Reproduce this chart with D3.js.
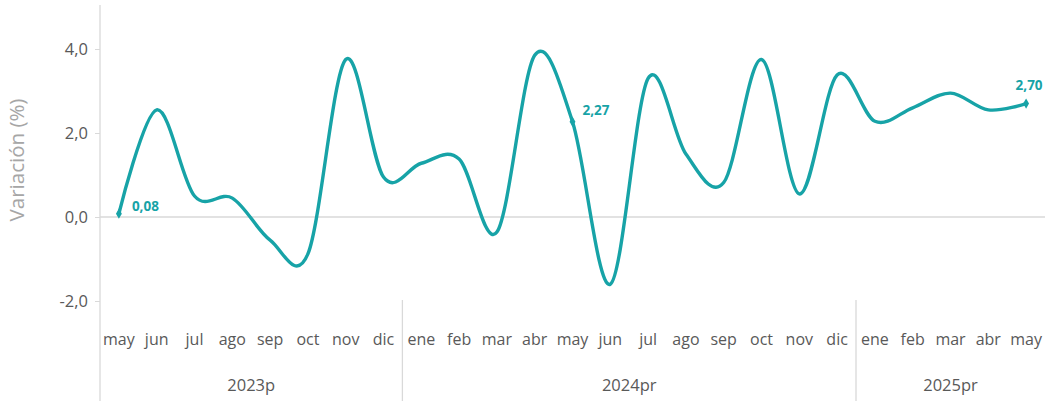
<!DOCTYPE html>
<html>
<head>
<meta charset="utf-8">
<script src="https://cdn.jsdelivr.net/npm/d3@7"></script>
<style>
	body { margin: 0; background: #fff; }
	text { font-family: 'Open Sans', 'Liberation Sans', sans-serif; }
</style>
</head>
<body>
<div class="graphic"></div>
<script>
var months = ['may','jun','jul','ago','sep','oct','nov','dic',
	'ene','feb','mar','abr','may','jun','jul','ago','sep','oct','nov','dic',
	'ene','feb','mar','abr','may'];
var years = ['2023p', '2024pr', '2025pr'];
var yearCounts = [8, 12, 5];
var values = [0.08, 2.55, 0.5, 0.45, -0.55, -0.88, 3.75, 0.95,
	1.28, 1.38, -0.36, 3.85, 2.27, -1.6, 3.3, 1.5, 0.82, 3.75, 0.55, 3.38,
	2.28, 2.6, 2.95, 2.55, 2.70];
var labelled = [0, 12, 24];
var yTicks = [-2, 0, 2, 4];

var width = 1045, height = 401;
var teal = '#17a3a7';
var fmt = function (d, p) { return d3.format(p)(d).replace('.', ',').replace('\u2212', '-'); };

var svg = d3.select('.graphic').append('svg')
	.attr('width', width).attr('height', height);

var keys = months.map(function (m, i) { return i; });
var x = d3.scaleBand().domain(keys).range([100, 1045]);
var y = d3.scaleLinear().domain([-2, 4]).range([301, 49]);

// category axis line at zero
svg.append('line')
	.attr('x1', 100).attr('x2', 1045)
	.attr('y1', y(0)).attr('y2', y(0))
	.attr('stroke', '#d9d9d9').attr('stroke-width', 1.3);

// value axis
svg.append('line')
	.attr('x1', 100).attr('x2', 100)
	.attr('y1', 5).attr('y2', height)
	.attr('stroke', '#d9d9d9').attr('stroke-width', 1.3);

var yAxis = svg.append('g').attr('transform', 'translate(100,0)')
	.call(d3.axisLeft(y).tickValues(yTicks).tickSize(5).tickPadding(7)
		.tickFormat(function (d) { return fmt(d, '.1f'); }));
yAxis.select('.domain').remove();
yAxis.selectAll('line').attr('stroke', '#d9d9d9');
yAxis.selectAll('text').attr('fill', '#595959').style('font-size', '16.5px');

svg.append('text')
	.attr('transform', 'translate(24,' + 160 + ') rotate(-90)')
	.attr('text-anchor', 'middle')
	.attr('fill', '#a6a6a6')
	.style('font-size', '20.5px')
	.text('Variación (%)');

// month labels
svg.selectAll('.month')
	.data(months)
	.enter().append('text')
	.attr('class', 'month')
	.attr('x', function (d, i) { return x(i) + x.bandwidth() / 2; })
	.attr('y', 345)
	.attr('text-anchor', 'middle')
	.attr('fill', '#595959')
	.style('font-size', '16px')
	.text(function (d) { return d; });

// year groups
var start = 0;
years.forEach(function (yr, j) {
	var x0 = x(start);
	var x1 = x(start + yearCounts[j] - 1) + x.bandwidth();
	if (j > 0) {
		svg.append('line')
			.attr('x1', x0).attr('x2', x0)
			.attr('y1', 300).attr('y2', height)
			.attr('stroke', '#d9d9d9').attr('stroke-width', 1.3);
	}
	svg.append('text')
		.attr('x', (x0 + x1) / 2)
		.attr('y', 391)
		.attr('text-anchor', 'middle')
		.attr('fill', '#595959')
		.style('font-size', '16.5px')
		.text(yr);
	start += yearCounts[j];
});

var line = d3.line()
	.x(function (d, i) { return x(i) + x.bandwidth() / 2; })
	.y(function (d) { return y(d); })
	.curve(d3.curveCatmullRom.alpha(0));

svg.append('path')
	.datum(values)
	.attr('d', line)
	.attr('fill', 'none')
	.attr('stroke', teal)
	.attr('stroke-width', 3.4)
	.attr('stroke-linejoin', 'round');

labelled.forEach(function (i) {
	var cx = x(i) + x.bandwidth() / 2, cy = y(values[i]);
	svg.append('path')
		.attr('d', d3.symbol(d3.symbolDiamond, 30)())
		.attr('transform', 'translate(' + cx + ',' + cy + ')')
		.attr('fill', teal);
	var dx = 13, dy = -3, anchor = 'start';
	if (i === 24) { dx = 3; dy = -14; anchor = 'middle'; }
	if (i === 12) { dx = 10; dy = -7; }
	svg.append('text')
		.attr('x', cx + dx).attr('y', cy + dy)
		.attr('text-anchor', anchor)
		.attr('fill', teal)
		.style('font-size', '13.5px')
		.style('font-weight', 'bold')
		.text(fmt(values[i], '.2f'));
});
</script>
</body>
</html>
